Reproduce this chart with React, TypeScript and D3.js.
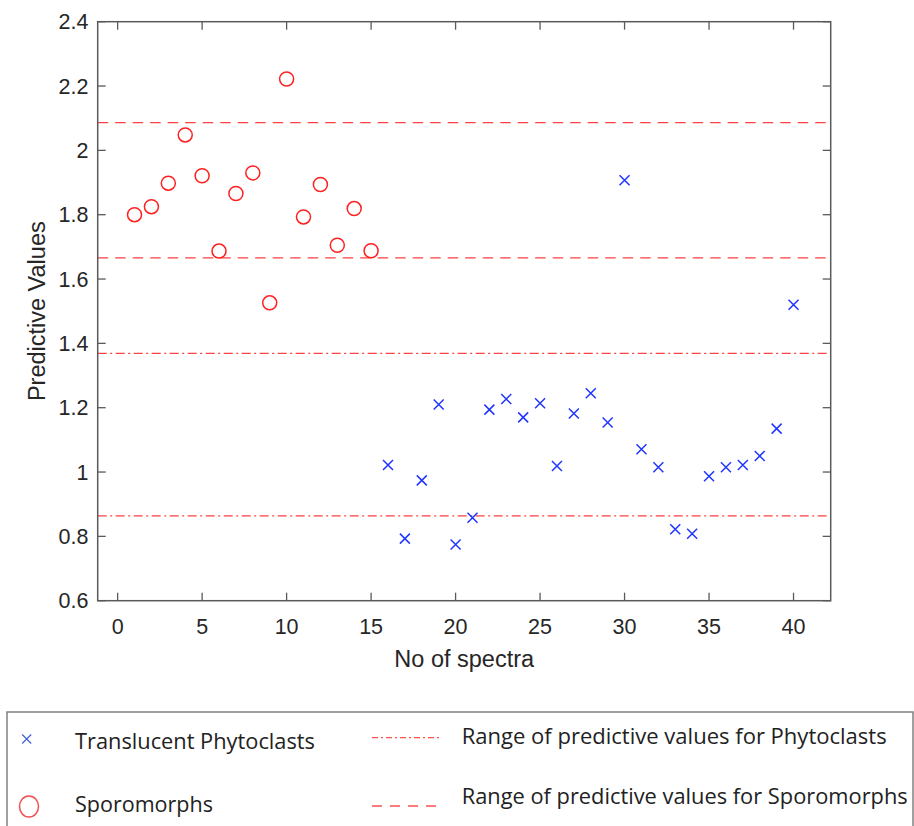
import React from "react";
import * as d3 from "d3";

const sporoSpectra = [1, 2, 3, 4, 5, 6, 7, 8, 9, 10, 11, 12, 13, 14, 15];
const sporoValues = [1.80, 1.825, 1.898, 2.048, 1.921, 1.687, 1.866, 1.93, 1.526, 2.222, 1.793, 1.894, 1.705, 1.819, 1.688];
const phytoSpectra = [16, 17, 18, 19, 20, 21, 22, 23, 24, 25, 26, 27, 28, 29, 30, 31, 32, 33, 34, 35, 36, 37, 38, 39, 40];
const phytoValues = [1.022, 0.793, 0.974, 1.21, 0.775, 0.858, 1.194, 1.227, 1.17, 1.214, 1.019, 1.182, 1.245, 1.154, 1.907, 1.071, 1.015, 0.822, 0.808, 0.987, 1.015, 1.022, 1.05, 1.135, 1.52];
const sporoRange = [1.666, 2.086];
const phytoRange = [0.864, 1.369];
const xTicks = [0, 5, 10, 15, 20, 25, 30, 35, 40];
const yTicks = [0.6, 0.8, 1.0, 1.2, 1.4, 1.6, 1.8, 2.0, 2.2, 2.4];
const legendMarkers = ["Translucent Phytoclasts", "Sporomorphs"];
const legendLines = ["Range of predictive values for Phytoclasts", "Range of predictive values for Sporomorphs"];

const L = 97.7, R = 830.7, T = 21.7, B = 600.7;
const RED = "#ff2020";
const BLUE = "#2035ff";
const AX = "#5a5a5a";
const TXT = "#262626";
const DASH = "10.5 7";
const DASHDOT = "9 3.5 2 3.5";
const FONT = "'Liberation Sans', Arial, sans-serif";

export default function App() {
  const x = d3.scaleLinear().domain([-1.18, 42.2]).range([L, R]);
  const y = d3.scaleLinear().domain([0.6, 2.4]).range([B, T]);
  const fmt = (v: number) => String(+v.toFixed(1));
  const tk = 8;
  const cs = 5;

  return (
    <svg width={914} height={826} style={{ position: "absolute", left: 0, top: 0, background: "#fff" }}>
      <rect x={0} y={0} width={914} height={826} fill="#fff" />
      {sporoRange.map((v, i) => (
        <line key={"s" + i} x1={L} x2={R} y1={y(v)} y2={y(v)} stroke={RED} strokeWidth={1.3} strokeDasharray={DASH} opacity={0.85} />
      ))}
      {phytoRange.map((v, i) => (
        <line key={"p" + i} x1={L} x2={R} y1={y(v)} y2={y(v)} stroke={RED} strokeWidth={1.3} strokeDasharray={DASHDOT} opacity={0.85} />
      ))}
      {sporoValues.map((v, i) => (
        <circle key={"c" + i} cx={x(sporoSpectra[i])} cy={y(v)} r={7} fill="none" stroke={RED} strokeWidth={1.5} />
      ))}
      {phytoValues.map((v, i) => {
        const cx = x(phytoSpectra[i]), cy = y(v);
        return (
          <path key={"x" + i} d={`M${cx - cs},${cy - cs}L${cx + cs},${cy + cs}M${cx - cs},${cy + cs}L${cx + cs},${cy - cs}`} stroke={BLUE} strokeWidth={1.5} fill="none" />
        );
      })}
      <rect x={L} y={T} width={R - L} height={B - T} fill="none" stroke={AX} strokeWidth={1.5} />
      {xTicks.map((t) => (
        <g key={"xt" + t}>
          <line x1={x(t)} x2={x(t)} y1={B} y2={B - tk} stroke={AX} strokeWidth={1.3} />
          <line x1={x(t)} x2={x(t)} y1={T} y2={T + tk} stroke={AX} strokeWidth={1.3} />
          <text x={x(t)} y={633.5} textAnchor="middle" fontFamily={FONT} fontSize={21.5} fill={TXT}>{t}</text>
        </g>
      ))}
      {yTicks.map((t) => (
        <g key={"yt" + t}>
          <line x1={L} x2={L + tk} y1={y(t)} y2={y(t)} stroke={AX} strokeWidth={1.3} />
          <line x1={R} x2={R - tk} y1={y(t)} y2={y(t)} stroke={AX} strokeWidth={1.3} />
          <text x={88.5} y={y(t)} dy="0.35em" textAnchor="end" fontFamily={FONT} fontSize={21.5} fill={TXT}>{fmt(t)}</text>
        </g>
      ))}
      <text x={(L + R) / 2} y={667} textAnchor="middle" fontFamily={FONT} fontSize={23.5} fill={TXT}>No of spectra</text>
      <text transform={`translate(45,${(T + B) / 2}) rotate(-90)`} textAnchor="middle" fontFamily={FONT} fontSize={23.5} fill={TXT}>Predictive Values</text>

      <rect x={7} y={712} width={906} height={130} fill="#fff" stroke="#808080" strokeWidth={1.5} />
      <path d={`M${26.7 - 4.5},${739 - 4.5}L${26.7 + 4.5},${739 + 4.5}M${26.7 - 4.5},${739 + 4.5}L${26.7 + 4.5},${739 - 4.5}`} stroke="#4060d0" strokeWidth={1.2} fill="none" />
      <ellipse cx={29} cy={806.5} rx={9.5} ry={10.5} fill="none" stroke="#f05050" strokeWidth={1.5} />
      {legendMarkers.map((s, i) => (
        <text key={"lm" + i} x={75} y={i === 0 ? 749 : 811.5} fontFamily="Open Sans, sans-serif" fontSize={21} fill="#222" textLength={i === 0 ? 240 : 138} lengthAdjust="spacingAndGlyphs">{s}</text>
      ))}
      <line x1={372} x2={441} y1={737.7} y2={737.7} stroke="#ff5050" strokeWidth={1.3} strokeDasharray="6 3 2 3" />
      <line x1={372} x2={441} y1={806} y2={806} stroke="#ff5050" strokeWidth={1.5} strokeDasharray="10 8" />
      {legendLines.map((s, i) => (
        <text key={"ll" + i} x={461.7} y={i === 0 ? 743.5 : 803.5} fontFamily="Open Sans, sans-serif" fontSize={21} fill="#222" textLength={i === 0 ? 425 : 446} lengthAdjust="spacingAndGlyphs">{s}</text>
      ))}
    </svg>
  );
}
